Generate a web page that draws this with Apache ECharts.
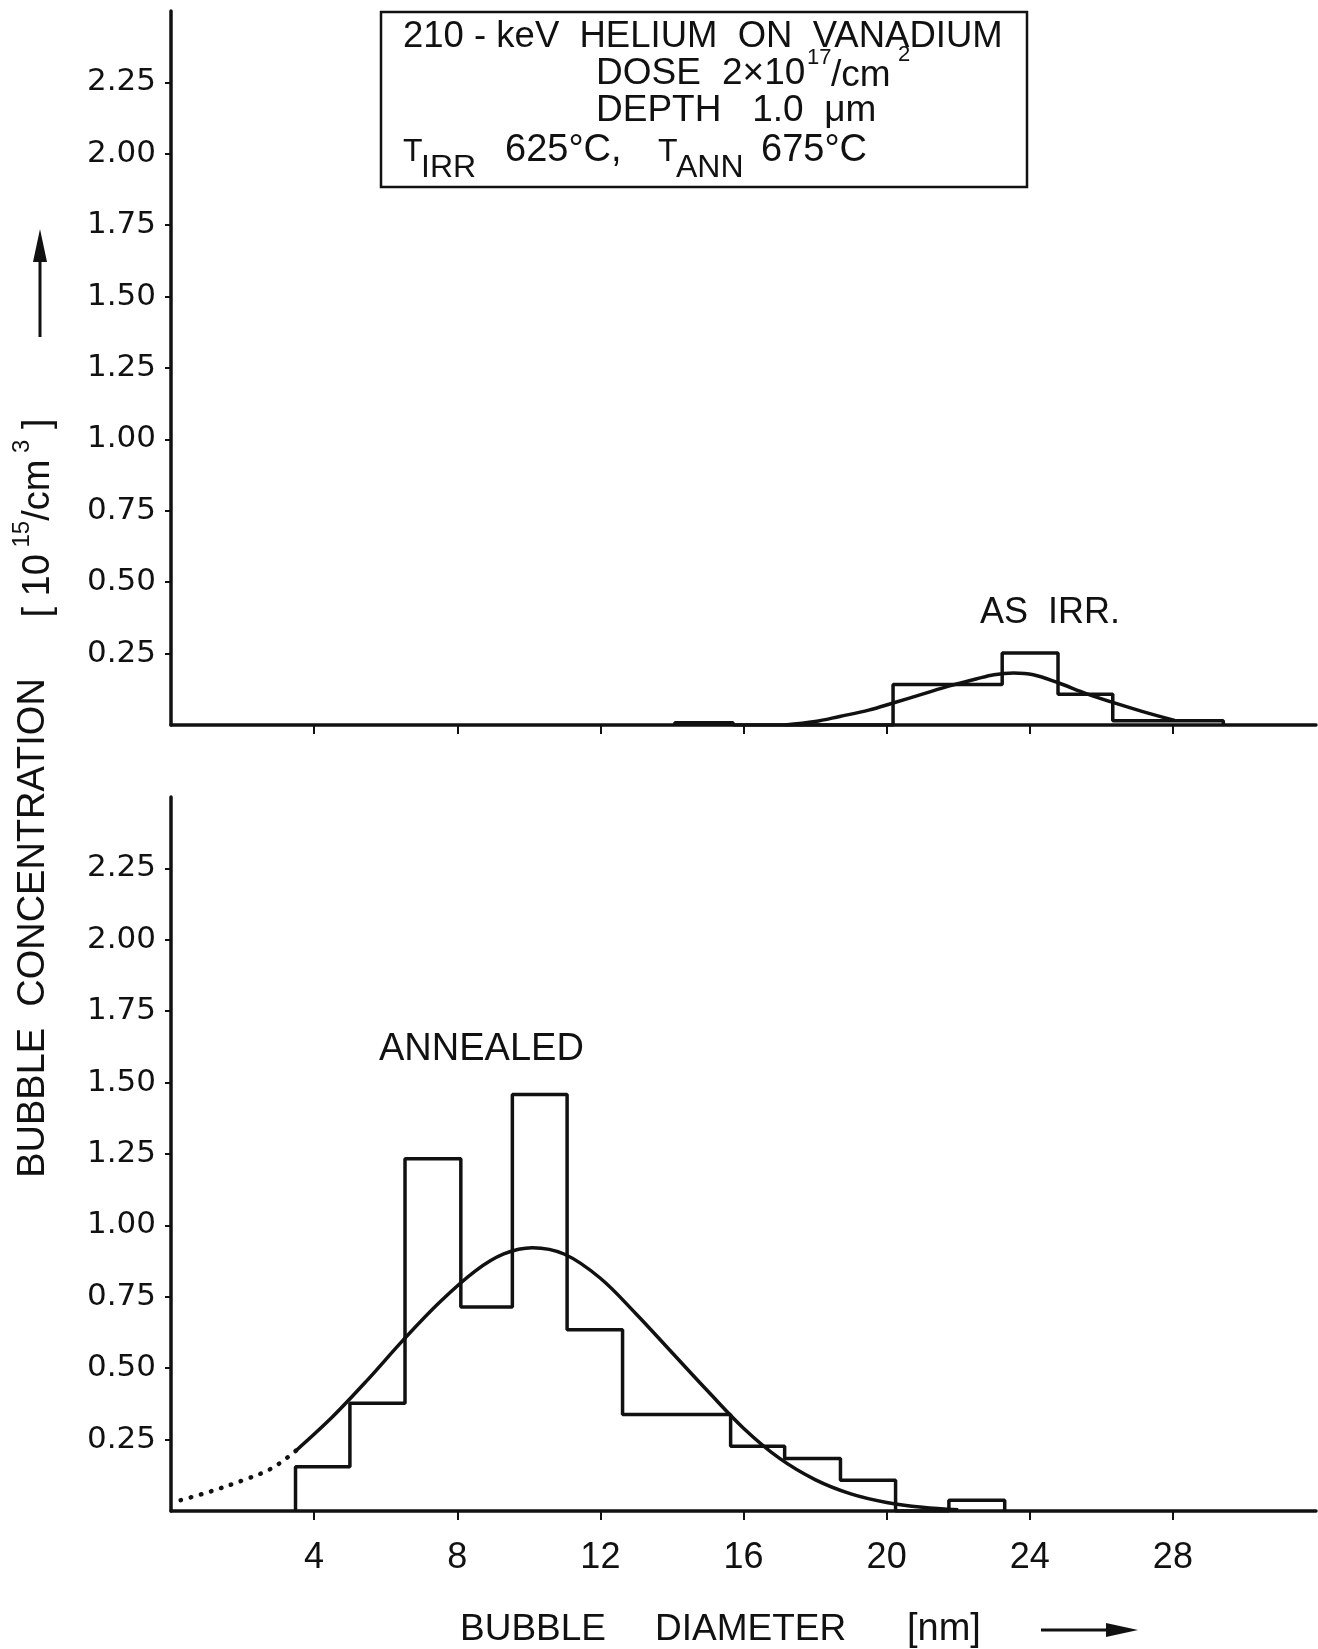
<!DOCTYPE html>
<html>
<head>
<meta charset="utf-8">
<title>Bubble diameter</title>
<script src="https://cdn.jsdelivr.net/npm/echarts@6.0.0/dist/echarts.min.js"></script>
<style>
  html, body { margin: 0; padding: 0; background: #fff; }
  #main { width: 1318px; height: 1649px; }
</style>
</head>
<body>
<div id="main"></div>
<script>
// ticks
var xTicks = [4, 8, 12, 16, 20, 24, 28];
var yTicks = [0.25, 0.5, 0.75, 1.0, 1.25, 1.5, 1.75, 2.0, 2.25];

// as irradiated histogram (bin left, bin right, height)
var irrLeft   = [14.08, 20.18, 23.23, 24.79, 26.32];
var irrRight  = [15.71, 23.23, 24.79, 26.32, 29.41];
var irrHeight = [0.008, 0.142, 0.252, 0.108, 0.015];

// as irradiated fit curve
var irrFitX = [17.15, 18.0, 18.69, 19.5, 20.18, 21.0, 21.76, 22.5, 23.0, 23.55, 24.1, 24.79, 25.58, 26.32, 27.16, 28.05];
var irrFitY = [0.0, 0.012, 0.030, 0.052, 0.077, 0.108, 0.137, 0.161, 0.176, 0.182, 0.176, 0.148, 0.110, 0.079, 0.047, 0.016];

// annealed histogram
var annLeft   = [3.48, 5.00, 6.54, 8.10, 9.54, 11.07, 12.62, 15.64, 17.15, 18.71, 21.74];
var annRight  = [5.00, 6.54, 8.10, 9.54, 11.07, 12.62, 15.64, 17.15, 18.71, 20.25, 23.30];
var annHeight = [0.155, 0.377, 1.233, 0.714, 1.458, 0.635, 0.338, 0.227, 0.184, 0.108, 0.038];

// annealed fit curve (solid part)
var annFitX = [3.5, 4.5, 5.5, 6.5, 7.5, 8.5, 9.3, 10.1, 11.0, 12.0, 13.0, 14.0, 15.0, 16.0, 17.0, 18.0, 19.0, 20.0, 21.0, 22.0];
var annFitY = [0.212, 0.328, 0.46, 0.60, 0.73, 0.84, 0.90, 0.922, 0.899, 0.815, 0.69, 0.555, 0.42, 0.29, 0.185, 0.11, 0.06, 0.03, 0.013, 0.004];

// annealed fit curve (dotted extrapolation)
var annDotX = [0.27, 1.07, 2.02, 2.81, 3.5];
var annDotY = [0.038, 0.067, 0.108, 0.149, 0.212];

function outline(lefts, rights, heights) {
  var pts = [];
  for (var i = 0; i < lefts.length; i++) {
    if (i == 0 || lefts[i] != rights[i - 1]) pts.push([lefts[i], 0]);
    pts.push([lefts[i], heights[i]]);
    pts.push([rights[i], heights[i]]);
    if (i == lefts.length - 1 || lefts[i + 1] != rights[i]) pts.push([rights[i], 0]);
  }
  return pts;
}
function pairs(xs, ys) {
  return xs.map(function (x, i) { return [x, ys[i]]; });
}

var ink = '#111';
var tickFont = 'DejaVu Sans';
var txtFont = 'Liberation Sans';

function xAx(idx, labels) {
  return {
    gridIndex: idx, type: 'value', min: 0, max: 32,
    axisLine: { show: true, onZero: false, lineStyle: { color: ink, width: 3.5 } },
    axisTick: { show: true, customValues: xTicks, length: 9, lineStyle: { color: ink, width: 2 } },
    axisLabel: { show: labels, customValues: xTicks, margin: 29, color: ink, fontSize: 36, fontFamily: txtFont },
    splitLine: { show: false }
  };
}
function yAx(idx) {
  return {
    gridIndex: idx, type: 'value', min: 0, max: 2.5,
    axisLine: { show: true, onZero: false, lineStyle: { color: ink, width: 3.5 } },
    axisTick: { show: true, customValues: yTicks, length: 6, lineStyle: { color: ink, width: 2 } },
    axisLabel: { show: true, customValues: yTicks, margin: 15, color: ink, fontSize: 31, fontFamily: tickFont,
      formatter: function (v) { return v.toFixed(2); } },
    splitLine: { show: false }
  };
}
function txt(x, y, s, size, extra) {
  var st = { text: s, fill: ink, fontSize: size, fontFamily: txtFont,
    align: 'left', verticalAlign: 'middle', textAlign: 'left', textVerticalAlign: 'middle' };
  if (extra) for (var k in extra) st[k] = extra[k];
  return { type: 'text', x: x, y: y, style: st, z: 10 };
}

var chart = echarts.init(document.getElementById('main'), null, { renderer: 'canvas' });
var line = { color: ink, width: 3.5 };

var option = {
  backgroundColor: '#fff',
  animation: false,
  grid: [
    { left: 171, top: 11, width: 1145, height: 714, outerBoundsMode: 'none' },
    { left: 171, top: 797, width: 1145, height: 714, outerBoundsMode: 'none' }
  ],
  xAxis: [xAx(0, false), xAx(1, true)],
  yAxis: [yAx(0), yAx(1)],
  series: [
    { type: 'line', xAxisIndex: 0, yAxisIndex: 0, data: outline(irrLeft, irrRight, irrHeight),
      symbol: 'none', lineStyle: line, itemStyle: { color: ink } },
    { type: 'line', xAxisIndex: 0, yAxisIndex: 0, data: pairs(irrFitX, irrFitY),
      symbol: 'none', smooth: 0.35, lineStyle: line, itemStyle: { color: ink } },
    { type: 'line', xAxisIndex: 1, yAxisIndex: 1, data: outline(annLeft, annRight, annHeight),
      symbol: 'none', lineStyle: line, itemStyle: { color: ink } },
    { type: 'line', xAxisIndex: 1, yAxisIndex: 1, data: pairs(annFitX, annFitY),
      symbol: 'none', smooth: 0.35, lineStyle: line, itemStyle: { color: ink } },
    { type: 'line', xAxisIndex: 1, yAxisIndex: 1, data: pairs(annDotX, annDotY),
      symbol: 'none', smooth: 0.35, lineStyle: { color: ink, width: 4.5, type: [0.5, 10], cap: 'round' },
      itemStyle: { color: ink } }
  ],
  graphic: [
    // legend box
    { type: 'rect', shape: { x: 381, y: 12, width: 646, height: 175 },
      style: { fill: '#fff', stroke: ink, lineWidth: 2.5 }, z: 5 },
    txt(403, 37, '210 - keV  HELIUM  ON  VANADIUM', 36.5),
    txt(596, 74, 'DOSE', 37),
    txt(722, 74, '2\u00d710', 37),
    txt(807, 58, '17', 22),
    txt(831, 76, '/cm', 37),
    txt(898, 55, '2', 22),
    txt(596, 111, 'DEPTH   1.0  \u03bcm', 37),
    txt(403, 152, 'T', 32),
    txt(421, 168, 'IRR', 32),
    txt(505, 151, '625\u00b0C,', 38),
    txt(658, 152, 'T', 32),
    txt(676, 168, 'ANN', 32),
    txt(761, 151, '675\u00b0C', 38),
    // series labels
    txt(980, 613, 'AS  IRR.', 36),
    txt(379, 1050, 'ANNEALED', 38),
    // x axis name
    txt(460, 1630, 'BUBBLE', 37),
    txt(655, 1630, 'DIAMETER', 37),
    txt(907, 1630, '[nm]', 38),
    { type: 'line', shape: { x1: 1041, y1: 1630, x2: 1112, y2: 1630 }, style: { stroke: ink, lineWidth: 3 } },
    { type: 'polygon', shape: { points: [[1138, 1630], [1106, 1623], [1106, 1637]] }, style: { fill: ink } },
    // y axis name
    { type: 'text', x: 34, y: 928, rotation: Math.PI / 2,
      style: { text: 'BUBBLE  CONCENTRATION', fill: ink, fontSize: 38, fontFamily: txtFont,
        align: 'center', verticalAlign: 'middle', textAlign: 'center', textVerticalAlign: 'middle' } },
    { type: 'text', x: 34, y: 518, rotation: Math.PI / 2,
      style: { text: '{t|[ 10}{s| 15}{t|/cm}{s| 3}{t| ]}', fill: ink, fontFamily: txtFont,
        align: 'center', verticalAlign: 'middle', textAlign: 'center', textVerticalAlign: 'middle',
        rich: {
          t: { fontSize: 38, lineHeight: 48, verticalAlign: 'bottom', fill: ink, fontFamily: txtFont },
          s: { fontSize: 24, lineHeight: 48, verticalAlign: 'top', fill: ink, fontFamily: txtFont }
        } } },
    { type: 'line', shape: { x1: 40, y1: 337, x2: 40, y2: 255 }, style: { stroke: ink, lineWidth: 3 } },
    { type: 'polygon', shape: { points: [[40, 229], [33, 262], [47, 262]] }, style: { fill: ink } }
  ]
};
chart.setOption(option);
</script>
</body>
</html>
